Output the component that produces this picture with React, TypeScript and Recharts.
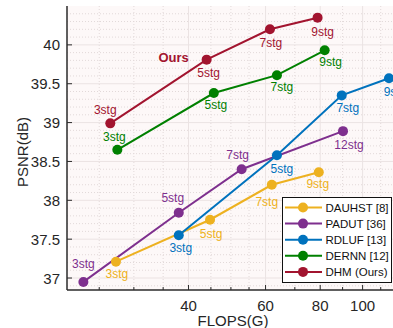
import React from 'react';
import { LineChart, Line, XAxis, YAxis, CartesianGrid, Legend, LabelList, Label } from 'recharts';

const FONT = '"Liberation Sans", Arial, Helvetica, sans-serif';
const AXIS = '#2b2b2b';
const TEXT = '#262626';

// data
const DAUHST_FLOPS = [27.3, 44.8, 62.0, 79.4];
const DAUHST_PSNR = [37.21, 37.75, 38.2, 38.36];
const DAUHST_STAGES = ['3stg', '5stg', '7stg', '9stg'];

const PADUT_FLOPS = [23.0, 38.0, 52.9, 90.2];
const PADUT_PSNR = [36.95, 37.84, 38.4, 38.89];
const PADUT_STAGES = ['3stg', '5stg', '7stg', '12stg'];

const RDLUF_FLOPS = [38.0, 63.7, 89.6, 114.9];
const RDLUF_PSNR = [37.55, 38.58, 39.35, 39.57];
const RDLUF_STAGES = ['3stg', '5stg', '7stg', '9stg'];

const DERNN_FLOPS = [27.5, 45.7, 63.7, 81.9];
const DERNN_PSNR = [38.65, 39.38, 39.61, 39.93];
const DERNN_STAGES = ['3stg', '5stg', '7stg', '9stg'];

const DHM_FLOPS = [26.5, 44.0, 61.4, 78.9];
const DHM_PSNR = [38.99, 39.81, 40.2, 40.35];
const DHM_STAGES = ['3stg', '5stg', '7stg', '9stg'];

const X_TICKS = [25, 30, 35, 40, 45, 50, 55, 60, 70, 80, 90, 100, 110, 120];
const X_LABELS = [40, 60, 80, 100];
const X_MINOR = [25, 30, 35, 45, 50, 55, 70, 90, 110, 120];
const Y_TICKS = [37, 37.5, 38, 38.5, 39, 39.5, 40];
const Y_MINOR = [36.9, 37.1, 37.2, 37.3, 37.4, 37.6, 37.7, 37.8, 37.9, 38.1, 38.2, 38.3, 38.4, 38.6, 38.7, 38.8, 38.9,
  39.1, 39.2, 39.3, 39.4, 39.6, 39.7, 39.8, 39.9, 40.1, 40.2, 40.3, 40.4];

// where each stage label sits relative to its marker (dx, dy of the text centre)
const LABEL_OFFSETS: Record<string, number[][]> = {
  DAUHST: [[1, 12], [1, 14], [-5, 17], [-1, 12]],
  PADUT: [[0, -18], [-6, -15], [-4, -14], [6, 14]],
  RDLUF: [[2, 13], [5, 14], [6, 13], [6, 14]],
  DERNN: [[-3, -13], [2, 12], [5, 12], [6, 12]],
  DHM: [[-5, -13], [2, 13], [1, 14], [5, 14]],
};

const rows = (f: number[], p: number[], s: string[]) => f.map((v, i) => ({ flops: v, psnr: p[i], stage: s[i] }));

const SERIES = [
  { key: 'DAUHST', name: 'DAUHST [8]', color: '#edb120', data: rows(DAUHST_FLOPS, DAUHST_PSNR, DAUHST_STAGES) },
  { key: 'PADUT', name: 'PADUT [36]', color: '#7e2f8e', data: rows(PADUT_FLOPS, PADUT_PSNR, PADUT_STAGES) },
  { key: 'RDLUF', name: 'RDLUF [13]', color: '#0072bd', data: rows(RDLUF_FLOPS, RDLUF_PSNR, RDLUF_STAGES) },
  { key: 'DERNN', name: 'DERNN [12]', color: '#008000', data: rows(DERNN_FLOPS, DERNN_PSNR, DERNN_STAGES) },
  { key: 'DHM', name: 'DHM (Ours)', color: '#a2142f', data: rows(DHM_FLOPS, DHM_PSNR, DHM_STAGES) },
];

const XTick = (props: any) => {
  const { x, y, payload, top } = props;
  const v = payload.value;
  const major = X_LABELS.includes(v);
  const len = major ? 5 : 3;
  return (
    <g>
      <line x1={x} x2={x} y1={y} y2={top ? y + len : y - len} stroke={AXIS} strokeWidth={1} />
      {!top && major && (
        <text x={x} y={y + 20.5} textAnchor="middle" fontSize={15} fontFamily={FONT} fill={TEXT}>{v}</text>
      )}
    </g>
  );
};

const YTick = (props: any) => {
  const { x, y, payload } = props;
  return (
    <g>
      <line x1={x} x2={x + 5} y1={y} y2={y} stroke={AXIS} strokeWidth={1} />
      <text x={x - 7} y={y + 5.5} textAnchor="end" fontSize={15} fontFamily={FONT} fill={TEXT}>{payload.value}</text>
    </g>
  );
};

const stageLabel = (key: string, color: string) => (props: any) => {
  const { x, y, value, index } = props;
  const [dx, dy] = LABEL_OFFSETS[key][index];
  return (
    <g>
      <text x={x + dx} y={y + dy + 4} textAnchor="middle" fontSize={12} fontFamily={FONT} fill={color}>{value}</text>
      {key === 'DHM' && index === 1 && (
        <text x={x - 33} y={y + 2.5} textAnchor="middle" fontSize={13} fontWeight="bold" fontFamily={FONT} fill={color}>Ours</text>
      )}
    </g>
  );
};

const LegendBox = () => (
  <div style={{ width: 110, height: 86, boxSizing: 'border-box', border: '1.5px solid #111', background: '#fff' }}>
    <svg width={107} height={83} style={{ display: 'block' }}>
      {SERIES.map((s, i) => {
        const cy = 9.5 + i * 16.1;
        return (
          <g key={s.key}>
            <line x1={2} x2={39} y1={cy} y2={cy} stroke={s.color} strokeWidth={2} />
            <circle cx={20} cy={cy} r={5} fill={s.color} />
            <text x={42.5} y={cy + 4} fontSize={11.5} fontFamily={FONT} fill="#111">{s.name}</text>
          </g>
        );
      })}
    </svg>
  </div>
);

export default function App() {
  return (
    <div style={{ position: 'absolute', left: 0, top: 0, width: 393, height: 328, overflow: 'hidden', background: '#fff' }}>
      <LineChart width={410} height={328} margin={{ top: 6, right: 5, bottom: 0, left: 0 }}>
        <CartesianGrid fill="#fdf8f8" stroke="#e2d9d9" strokeDasharray="1 2" horizontalValues={Y_MINOR} verticalValues={X_MINOR} />
        <CartesianGrid stroke="#ebe3e3" horizontalValues={Y_TICKS} verticalValues={X_LABELS} />
        <XAxis
          dataKey="flops"
          type="number"
          scale="log"
          domain={[21.1, 125]}
          allowDataOverflow
          ticks={X_TICKS}
          interval={0}
          height={38}
          tickSize={0}
          tickMargin={0}
          tick={<XTick />}
          axisLine={{ stroke: AXIS, strokeWidth: 1.5 }}
        >
          <Label
            content={(p: any) => {
              const vb = p.viewBox;
              return (
                <text x={vb.x + vb.width / 2 - 3} y={vb.y + 36} textAnchor="middle" fontSize={15} fontFamily={FONT} fill={TEXT}>FLOPS(G)</text>
              );
            }}
          />
        </XAxis>
        <XAxis
          xAxisId="top"
          orientation="top"
          type="number"
          scale="log"
          domain={[21.1, 125]}
          allowDataOverflow
          ticks={X_TICKS}
          interval={0}
          height={0}
          tickSize={0}
          tickMargin={0}
          tick={<XTick top />}
          axisLine={{ stroke: AXIS, strokeWidth: 1.5 }}
        />
        <YAxis
          type="number"
          domain={[36.846, 40.5]}
          allowDataOverflow
          ticks={Y_TICKS}
          interval={0}
          width={67}
          tickSize={0}
          tickMargin={0}
          tick={<YTick />}
          axisLine={{ stroke: AXIS, strokeWidth: 1.5 }}
        >
          <Label
            content={(p: any) => {
              const vb = p.viewBox;
              const cx = 22;
              const cy = vb.y + vb.height / 2 + 4;
              return (
                <text x={cx} y={cy} transform={`rotate(-90 ${cx} ${cy})`} textAnchor="middle" dominantBaseline="central" fontSize={15} fontFamily={FONT} fill={TEXT}>PSNR(dB)</text>
              );
            }}
          />
        </YAxis>
        {SERIES.map((s) => (
          <Line
            key={s.key}
            data={s.data}
            dataKey="psnr"
            name={s.name}
            type="linear"
            stroke={s.color}
            strokeWidth={2}
            dot={{ r: 5, fill: s.color, stroke: s.color, strokeWidth: 0 }}
            activeDot={false}
            isAnimationActive={false}
          >
            <LabelList dataKey="stage" content={stageLabel(s.key, s.color)} />
          </Line>
        ))}
        <Legend layout="vertical" align="center" verticalAlign="middle" content={<LegendBox />} wrapperStyle={{ left: 282, top: 197, width: 110 }} />
      </LineChart>
    </div>
  );
}
